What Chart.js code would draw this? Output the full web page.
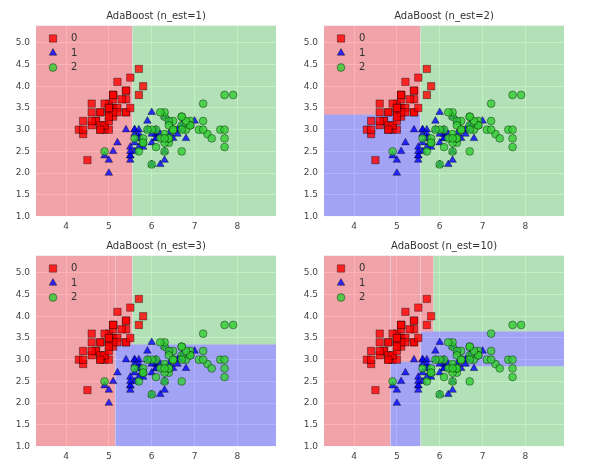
<!DOCTYPE html>
<html><head><meta charset="utf-8">
<script src="https://cdn.jsdelivr.net/npm/chart.js@4.4.0/dist/chart.umd.min.js"></script>
<style>
html,body{margin:0;padding:0;background:#fff;width:601px;height:473px;overflow:hidden;}
.cell{position:absolute;width:300px;height:245px;}
</style></head><body>
<div class="cell" style="left:0;top:0"><canvas id="c1" width="300" height="245"></canvas></div>
<div class="cell" style="left:288px;top:0"><canvas id="c2" width="300" height="245"></canvas></div>
<div class="cell" style="left:0;top:230px"><canvas id="c3" width="300" height="245"></canvas></div>
<div class="cell" style="left:288px;top:230px"><canvas id="c4" width="300" height="245"></canvas></div>
<script>
// ---- data (iris: sepal length / sepal width) ----
const classLabels = ['0', '1', '2'];
const sepalLength0 = [5.1,4.9,4.7,4.6,5.0,5.4,4.6,5.0,4.4,4.9,5.4,4.8,4.8,4.3,5.8,5.7,5.4,5.1,5.7,5.1,5.4,5.1,4.6,5.1,4.8,5.0,5.0,5.2,5.2,4.7,4.8,5.4,5.2,5.5,4.9,5.0,5.5,4.9,4.4,5.1,5.0,4.5,4.4,5.0,5.1,4.8,5.1,4.6,5.3,5.0];
const sepalWidth0  = [3.5,3.0,3.2,3.1,3.6,3.9,3.4,3.4,2.9,3.1,3.7,3.4,3.0,3.0,4.0,4.4,3.9,3.5,3.8,3.8,3.4,3.7,3.6,3.3,3.4,3.0,3.4,3.5,3.4,3.2,3.1,3.4,4.1,4.2,3.1,3.2,3.5,3.6,3.0,3.4,3.5,2.3,3.2,3.5,3.8,3.0,3.8,3.2,3.7,3.3];
const sepalLength1 = [7.0,6.4,6.9,5.5,6.5,5.7,6.3,4.9,6.6,5.2,5.0,5.9,6.0,6.1,5.6,6.7,5.6,5.8,6.2,5.6,5.9,6.1,6.3,6.1,6.4,6.6,6.8,6.7,6.0,5.7,5.5,5.5,5.8,6.0,5.4,6.0,6.7,6.3,5.6,5.5,5.5,6.1,5.8,5.0,5.6,5.7,5.7,6.2,5.1,5.7];
const sepalWidth1  = [3.2,3.2,3.1,2.3,2.8,2.8,3.3,2.4,2.9,2.7,2.0,3.0,2.2,2.9,2.9,3.1,3.0,2.7,2.2,2.5,3.2,2.8,2.5,2.8,2.9,3.0,2.8,3.0,2.9,2.6,2.4,2.4,2.7,2.7,3.0,3.4,3.1,2.3,3.0,2.5,2.6,3.0,2.6,2.3,2.7,3.0,2.9,2.9,2.5,2.8];
const sepalLength2 = [6.3,5.8,7.1,6.3,6.5,7.6,4.9,7.3,6.7,7.2,6.5,6.4,6.8,5.7,5.8,6.4,6.5,7.7,7.7,6.0,6.9,5.6,7.7,6.3,6.7,7.2,6.2,6.1,6.4,7.2,7.4,7.9,6.4,6.3,6.1,7.7,6.3,6.4,6.0,6.9,6.7,6.9,5.8,6.8,6.7,6.7,6.3,6.5,6.2,5.9];
const sepalWidth2  = [3.3,2.7,3.0,2.9,3.0,3.0,2.5,2.9,2.5,3.6,3.2,2.7,3.0,2.5,2.8,3.2,3.0,3.8,2.6,2.2,3.2,2.8,2.8,2.7,3.3,3.2,2.8,3.0,2.8,3.0,2.8,3.8,2.8,2.8,2.6,3.0,3.4,3.1,3.0,3.1,3.1,3.1,2.7,3.2,3.3,3.0,2.5,3.0,3.4,3.0];

const xTicks = [4, 5, 6, 7, 8];
const yTicks = [1.0, 1.5, 2.0, 2.5, 3.0, 3.5, 4.0, 4.5, 5.0];
const xRange = [3.3, 8.9];
const yRange = [1.0, 5.4];

const panelTitles = ['AdaBoost (n_est=1)', 'AdaBoost (n_est=2)', 'AdaBoost (n_est=3)', 'AdaBoost (n_est=10)'];
// decision regions: [xFrom, xTo, yFrom, yTo, predictedClass]
const regions1 = [[3.3,5.55,1.0,5.4,0],[5.55,8.9,1.0,5.4,2]];
const regions2 = [[3.3,5.55,3.35,5.4,0],[3.3,5.55,1.0,3.35,1],[5.55,8.9,1.0,5.4,2]];
const regions3 = [[3.3,5.15,1.0,5.4,0],[5.15,5.55,3.35,5.4,0],[5.15,8.9,1.0,3.35,1],[5.55,8.9,3.35,5.4,2]];
const regions10 = [[3.3,4.85,1.0,5.4,0],[4.85,5.55,2.95,5.4,0],[5.55,5.85,3.65,5.4,0],
                   [4.85,5.55,1.0,2.95,1],[5.55,8.9,2.85,3.65,1],
                   [5.55,8.9,1.0,2.85,2],[5.85,8.9,3.65,5.4,2]];

// ---- styles ----
const FONT = '"DejaVu Sans", sans-serif';
const regionColors = ['rgba(255,0,0,0.3)', 'rgba(0,0,255,0.3)', 'rgba(50,205,50,0.3)'];
const markerFill = ['rgba(255,0,0,0.8)', 'rgba(0,0,255,0.8)', 'rgba(50,205,50,0.8)'];
const markerStyle = ['rect', 'triangle', 'circle'];
const markerRadius = [5.2, 4.4, 3.9];

const plotBg = {
  id: 'plotBg',
  beforeDraw(chart) {
    const a = chart.chartArea, ctx = chart.ctx;
    ctx.save(); ctx.fillStyle = '#EAEAF2';
    ctx.fillRect(a.left, a.top, a.right - a.left, a.bottom - a.top);
    ctx.restore();
  }
};
const innerLegend = {
  id: 'innerLegend',
  afterDatasetsDraw(chart) {
    const a = chart.chartArea, ctx = chart.ctx;
    ctx.save();
    classLabels.forEach((lab, i) => {
      const ds = chart.data.datasets[i];
      const cx = a.left + 17, cy = a.top + 13 + i * 14.5;
      ctx.fillStyle = ds.backgroundColor; ctx.strokeStyle = ds.borderColor; ctx.lineWidth = ds.borderWidth;
      Chart.helpers.drawPoint(ctx, {pointStyle: ds.pointStyle, radius: ds.pointRadius, borderWidth: ds.borderWidth, rotation: 0}, cx, cy);
      ctx.fillStyle = '#333'; ctx.font = '10px ' + FONT; ctx.textBaseline = 'middle'; ctx.textAlign = 'left';
      ctx.fillText(lab, a.left + 35, cy);
    });
    ctx.restore();
  }
};

function pts(xs, ys) { return xs.map((x, i) => ({x: x, y: ys[i]})); }
const classPoints = [pts(sepalLength0, sepalWidth0), pts(sepalLength1, sepalWidth1), pts(sepalLength2, sepalWidth2)];

function makeChart(id, title, regions) {
  const datasets = classPoints.map((d, i) => ({
    type: 'scatter', label: classLabels[i], data: d,
    backgroundColor: markerFill[i], borderColor: 'rgba(0,0,0,0.55)', borderWidth: 0.7,
    pointStyle: markerStyle[i], pointRadius: markerRadius[i], order: 3 - i
  }));
  regions.forEach((r) => {
    datasets.push({
      type: 'line', label: 'region', data: [{x: r[0], y: r[3]}, {x: r[1], y: r[3]}],
      fill: {value: r[2]}, backgroundColor: regionColors[r[4]], borderWidth: 0,
      pointRadius: 0, order: 20, tension: 0
    });
  });
  new Chart(document.getElementById(id), {
    type: 'scatter',
    data: {datasets},
    plugins: [plotBg, innerLegend],
    options: {
      responsive: false, animation: false, events: [],
      layout: {padding: {left: 0, right: 24, top: 0, bottom: 0}},
      plugins: {
        legend: {display: false}, tooltip: {enabled: false},
        title: {display: true, text: title, color: '#333', fullSize: false,
                font: {family: FONT, size: 10, weight: 'normal'}, padding: {top: 10.7, bottom: 2.8}}
      },
      scales: {
        x: {type: 'linear', min: xRange[0], max: xRange[1],
            afterBuildTicks: s => { s.ticks = xTicks.map(v => ({value: v})); },
            afterFit: s => { s.height = 28.5; },
            ticks: {padding: 5, color: '#444', font: {family: FONT, size: 9}, callback: v => String(v)},
            grid: {color: '#ffffff', lineWidth: 1, drawTicks: false}, border: {display: false}},
        y: {type: 'linear', min: yRange[0], max: yRange[1],
            afterBuildTicks: s => { s.ticks = yTicks.map(v => ({value: v})); },
            afterFit: s => { s.width = 36; },
            ticks: {padding: 6, color: '#444', font: {family: FONT, size: 9}, callback: v => Number(v).toFixed(1)},
            grid: {color: '#ffffff', lineWidth: 1, drawTicks: false}, border: {display: false}}
      }
    }
  });
}
makeChart('c1', panelTitles[0], regions1);
makeChart('c2', panelTitles[1], regions2);
makeChart('c3', panelTitles[2], regions3);
makeChart('c4', panelTitles[3], regions10);
</script>
</body></html>
